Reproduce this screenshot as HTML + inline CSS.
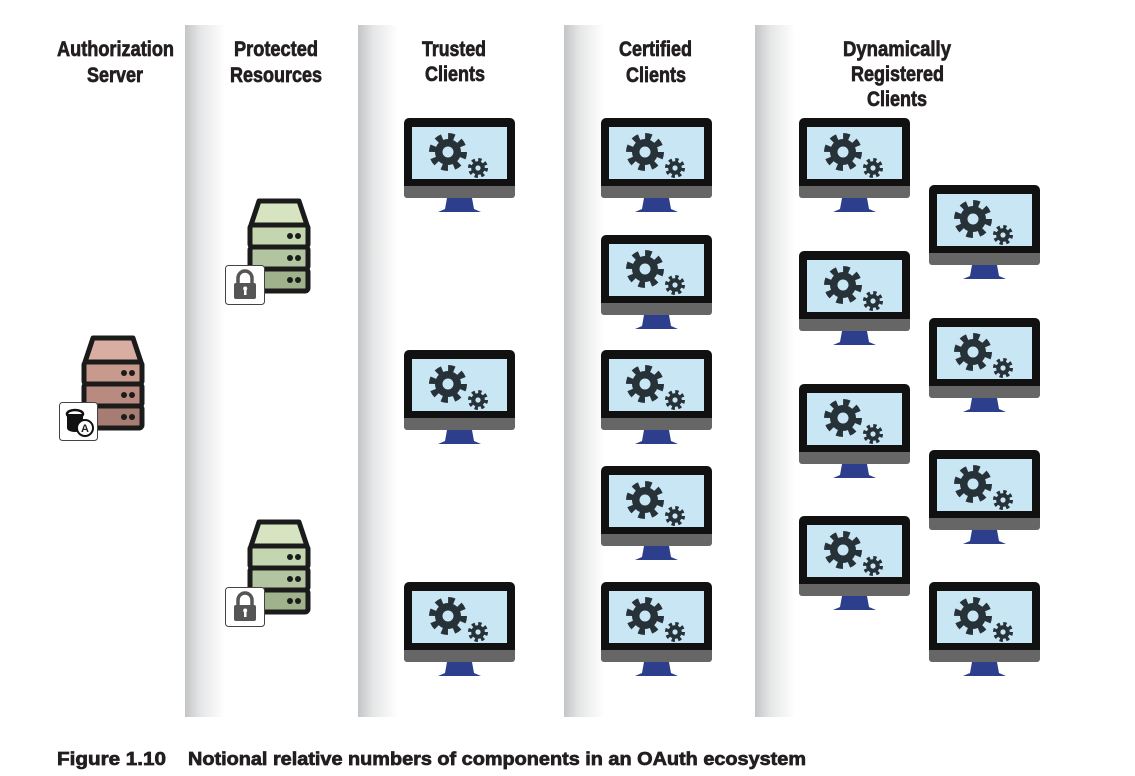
<!DOCTYPE html>
<html><head><meta charset="utf-8"><style>
html,body{margin:0;padding:0;background:#fff;}
svg{display:block;}
text{font-family:"Liberation Sans",sans-serif;font-weight:bold;fill:#231f20;stroke:#231f20;stroke-width:0.7px;}
</style></head><body>
<svg width="1135" height="776" viewBox="0 0 1135 776" xmlns="http://www.w3.org/2000/svg">
<defs>
<linearGradient id="sep" x1="0" x2="1" y1="0" y2="0">
<stop offset="0" stop-color="#c4c5c7"/><stop offset="0.4" stop-color="#e6e7e8"/><stop offset="1" stop-color="#ffffff"/>
</linearGradient>
<g id="gear">
<circle r="15" fill="none" stroke="#263238" stroke-width="8" stroke-dasharray="6 5.78"/>
<circle r="13" fill="#263238"/>
<circle r="5.5" fill="#c9e6f5"/>
</g>
<g id="sgear">
<circle r="8" fill="none" stroke="#263238" stroke-width="4" stroke-dasharray="3.2 3.08"/>
<circle r="6.8" fill="#263238"/>
<circle r="2.6" fill="#c9e6f5"/>
</g>
<g id="mon">
<rect x="0" y="0" width="111" height="80" rx="5" fill="#111"/>
<rect x="0" y="68" width="111" height="12" rx="3" fill="#666"/>
<rect x="0" y="68" width="111" height="4" fill="#666"/>
<rect x="8" y="9" width="95" height="52" fill="#c9e6f5"/>
<use href="#gear" x="44" y="34"/>
<use href="#sgear" x="74" y="50"/>
<path d="M43 80 L68 80 L70 91 L77 94 L34 94 L41 91 Z" fill="#2c3e8c"/>
</g>
<g id="srvG">
<path d="M11 3 L51 3 L59 27 L3 27 Z" fill="#d7e4c2" stroke="#1b1b1b" stroke-width="5" stroke-linejoin="round"/>
<rect x="2" y="27" width="58" height="22" rx="3" fill="#c4d6b0" stroke="#1b1b1b" stroke-width="5"/>
<rect x="2" y="49" width="58" height="22" rx="3" fill="#b3c5a0" stroke="#1b1b1b" stroke-width="5"/>
<rect x="2" y="71" width="58" height="22" rx="3" fill="#9fb28c" stroke="#1b1b1b" stroke-width="5"/>
<g fill="#1b1b1b"><circle cx="42" cy="38" r="3"/><circle cx="50" cy="38" r="3"/><circle cx="42" cy="60" r="3"/><circle cx="50" cy="60" r="3"/><circle cx="42" cy="82" r="3"/><circle cx="50" cy="82" r="3"/></g>
</g>
<g id="srvR">
<path d="M11 3 L51 3 L59 27 L3 27 Z" fill="#d9aea2" stroke="#1b1b1b" stroke-width="5" stroke-linejoin="round"/>
<rect x="2" y="27" width="58" height="22" rx="3" fill="#c89a8e" stroke="#1b1b1b" stroke-width="5"/>
<rect x="2" y="49" width="58" height="22" rx="3" fill="#b98b80" stroke="#1b1b1b" stroke-width="5"/>
<rect x="2" y="71" width="58" height="22" rx="3" fill="#a77c72" stroke="#1b1b1b" stroke-width="5"/>
<g fill="#1b1b1b"><circle cx="42" cy="38" r="3"/><circle cx="50" cy="38" r="3"/><circle cx="42" cy="60" r="3"/><circle cx="50" cy="60" r="3"/><circle cx="42" cy="82" r="3"/><circle cx="50" cy="82" r="3"/></g>
</g>
<g id="lock">
<rect x="0.5" y="0.5" width="39" height="39" rx="3" fill="#fff" stroke="#444" stroke-width="1"/>
<path d="M13 18 V13 a7 7 0 0 1 14 0 V18" fill="none" stroke="#555" stroke-width="3.5"/>
<rect x="9" y="18" width="22" height="16" rx="2" fill="#555"/>
<rect x="19" y="23" width="2.5" height="7" fill="#fff"/><circle cx="20.2" cy="23.5" r="2" fill="#fff"/>
</g>
</defs>

<rect x="185" y="25" width="40" height="692" fill="url(#sep)"/>
<rect x="358" y="25" width="40" height="692" fill="url(#sep)"/>
<rect x="564" y="25" width="40" height="692" fill="url(#sep)"/>
<rect x="755" y="25" width="40" height="692" fill="url(#sep)"/>

<g font-size="21">
<text x="57" y="56" textLength="117" lengthAdjust="spacingAndGlyphs">Authorization</text>
<text x="87" y="82" textLength="56" lengthAdjust="spacingAndGlyphs">Server</text>
<text x="234" y="56" textLength="84" lengthAdjust="spacingAndGlyphs">Protected</text>
<text x="230" y="82" textLength="92" lengthAdjust="spacingAndGlyphs">Resources</text>
<text x="422" y="56" textLength="64" lengthAdjust="spacingAndGlyphs">Trusted</text>
<text x="425" y="81" textLength="60" lengthAdjust="spacingAndGlyphs">Clients</text>
<text x="619" y="56" textLength="73" lengthAdjust="spacingAndGlyphs">Certified</text>
<text x="626" y="82" textLength="60" lengthAdjust="spacingAndGlyphs">Clients</text>
<text x="843" y="56" textLength="108" lengthAdjust="spacingAndGlyphs">Dynamically</text>
<text x="851" y="81" textLength="93" lengthAdjust="spacingAndGlyphs">Registered</text>
<text x="867" y="106" textLength="60" lengthAdjust="spacingAndGlyphs">Clients</text>
</g>

<use href="#srvG" x="248" y="198"/>
<use href="#lock" x="225" y="265"/>
<use href="#srvG" x="248" y="519"/>
<use href="#lock" x="225" y="587"/>
<use href="#srvR" x="82" y="335"/>
<g transform="translate(59,402)">
<rect x="0.5" y="0.5" width="38" height="38" rx="3" fill="#fff" stroke="#444"/>
<ellipse cx="16" cy="12" rx="8" ry="4" fill="#fff" stroke="#111" stroke-width="2.5"/>
<path d="M8 12 v14 a8 4 0 0 0 16 0 v-14" fill="#111"/>
<circle cx="26" cy="26" r="8" fill="#fff" stroke="#111" stroke-width="2"/>
<text x="22" y="30" font-size="11" font-weight="normal" style="stroke:none">A</text>
</g>

<use href="#mon" x="404" y="118"/>
<use href="#mon" x="404" y="350"/>
<use href="#mon" x="404" y="582"/>
<use href="#mon" x="601" y="118"/>
<use href="#mon" x="601" y="235"/>
<use href="#mon" x="601" y="350"/>
<use href="#mon" x="601" y="466"/>
<use href="#mon" x="601" y="582"/>
<use href="#mon" x="799" y="118"/>
<use href="#mon" x="799" y="251"/>
<use href="#mon" x="799" y="384"/>
<use href="#mon" x="799" y="516"/>
<use href="#mon" x="929" y="185"/>
<use href="#mon" x="929" y="318"/>
<use href="#mon" x="929" y="450"/>
<use href="#mon" x="929" y="582"/>

<text x="57" y="765" font-size="18" textLength="109" lengthAdjust="spacingAndGlyphs">Figure 1.10</text>
<text x="188" y="765" font-size="18" textLength="618" lengthAdjust="spacingAndGlyphs">Notional relative numbers of components in an OAuth ecosystem</text>
</svg>
</body></html>
